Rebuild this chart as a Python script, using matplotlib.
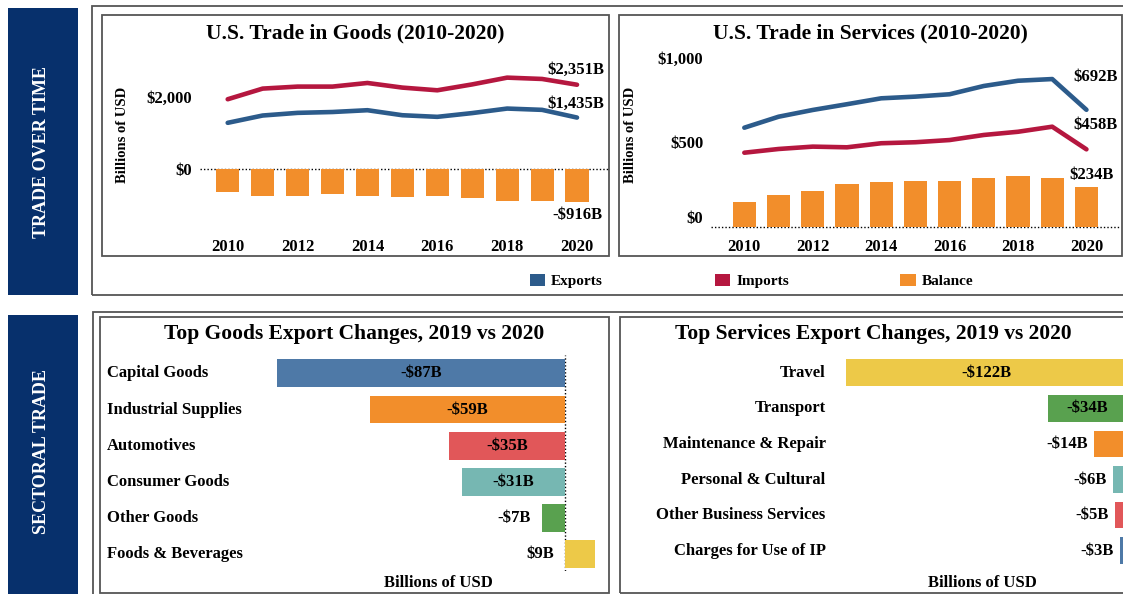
import matplotlib
matplotlib.use('Agg')
import matplotlib.pyplot as plt
from matplotlib.patches import Rectangle, Patch
from matplotlib.transforms import blended_transform_factory, ScaledTranslation

plt.rcParams['font.family'] = ['Liberation Serif', 'DejaVu Serif']
plt.rcParams['font.weight'] = 'bold'

# ---------------- data ----------------
years = list(range(2010, 2021))
year_ticks = [2010, 2012, 2014, 2016, 2018, 2020]

goods_exports = [1288, 1492, 1566, 1590, 1640, 1500, 1455, 1560, 1686, 1650, 1435]
goods_imports = [1946, 2243, 2299, 2299, 2400, 2271, 2196, 2360, 2549, 2512, 2351]
goods_balance = [-648, -750, -750, -695, -750, -778, -750, -806, -890, -880, -916]
goods_yticks = [0, 2000]
goods_yticklabels = ['$0', '$2,000']

services_exports = [586, 651, 691, 725, 760, 770, 784, 833, 864, 874, 692]
services_imports = [438, 460, 474, 470, 494, 500, 513, 543, 562, 592, 458]
services_balance = [146, 186, 213, 253, 263, 270, 270, 286, 298, 286, 234]
services_yticks = [0, 500, 1000]
services_yticklabels = ['$0', '$500', '$1,000']

goods_categories = ['Capital Goods', 'Industrial Supplies', 'Automotives',
                    'Consumer Goods', 'Other Goods', 'Foods & Beverages']
goods_changes = [-87, -59, -35, -31, -7, 9]

services_categories = ['Travel', 'Transport', 'Maintenance & Repair',
                       'Personal & Cultural', 'Other Business Services',
                       'Charges for Use of IP']
services_changes = [-122, -34, -14, -6, -5, -3]

# ---------------- style ----------------
C_EXP = '#2c5b8b'
C_IMP = '#b5173f'
C_BAL = '#f28e2b'
NAVY = '#07306c'
BOX = '#555555'
goods_colors = ['#4e79a7', '#f28e2b', '#e15759', '#76b7b2', '#59a14f', '#edc948']
services_colors = ['#edc948', '#59a14f', '#f28e2b', '#76b7b2', '#e15759', '#4e79a7']
FS = 12  # main label size

W, H = 1123, 594
fig = plt.figure(figsize=(W / 100, H / 100), dpi=100)
fig.patch.set_facecolor('white')


def fx(x):
    return x / W


def fy(y):
    return 1 - y / H


def px_axes(x0, y0, x1, y1):
    ax = fig.add_axes([x0 / W, 1 - y1 / H, (x1 - x0) / W, (y1 - y0) / H])
    ax.patch.set_visible(False)
    for s in ax.spines.values():
        s.set_visible(False)
    return ax


def px_rect(x0, y0, x1, y1, **kw):
    r = Rectangle((x0 / W, 1 - y1 / H), (x1 - x0) / W, (y1 - y0) / H,
                  transform=fig.transFigure, **kw)
    fig.add_artist(r)
    return r


def fmt_money(v):
    return f"-${abs(v):,}B" if v < 0 else f"${v:,}B"


# ---------------- side panels & boxes ----------------
px_rect(7.5, 8, 78, 294.5, facecolor=NAVY, edgecolor='none', zorder=0)
px_rect(7.5, 315, 78, 600, facecolor=NAVY, edgecolor='none', zorder=0)
fig.text(fx(42), fy(152.5), 'TRADE OVER TIME', color='white', rotation=90,
         ha='center', va='center', fontsize=13, fontweight='bold')
fig.text(fx(42), fy(451), 'SECTORAL TRADE', color='white', rotation=90,
         ha='center', va='center', fontsize=13, fontweight='bold')

px_rect(92, 6, 1130, 295, fill=False, edgecolor=BOX, lw=1.3, zorder=0)
px_rect(101.5, 15, 608.5, 256, fill=False, edgecolor=BOX, lw=1.3, zorder=0)
px_rect(618.5, 15, 1121.5, 256, fill=False, edgecolor=BOX, lw=1.3, zorder=0)
px_rect(92.5, 312, 1130, 600, fill=False, edgecolor=BOX, lw=1.3, zorder=0)
px_rect(99.5, 317, 608.5, 592.5, fill=False, edgecolor=BOX, lw=1.3, zorder=0)
px_rect(619.5, 317, 1130, 592.5, fill=False, edgecolor=BOX, lw=1.3, zorder=0)


# ---------------- top charts ----------------
def trade_chart(ax, exp, imp, bal, yticks, ylabels, bw, xlim, ylim):
    ax.bar(years, bal, width=bw, color=C_BAL, zorder=2)
    ax.plot(years, imp, color=C_IMP, lw=3.3, solid_capstyle='round', zorder=3)
    ax.plot(years, exp, color=C_EXP, lw=3.3, solid_capstyle='round', zorder=3)
    ax.axhline(0, color='black', lw=1, ls=(0, (1, 1.5)), zorder=1)
    ax.set_xlim(*xlim)
    ax.set_ylim(*ylim)
    ax.set_xticks(year_ticks)
    ax.set_xticklabels([str(y) for y in year_ticks], fontsize=FS, fontweight='bold')
    ax.set_yticks(yticks)
    ax.set_yticklabels(ylabels, fontsize=FS, fontweight='bold')
    ax.tick_params(length=0, pad=5.5)
    ax.tick_params(axis='x', pad=5)


ax1 = px_axes(200, 50, 609, 232)
trade_chart(ax1, goods_exports, goods_imports, goods_balance, goods_yticks,
            goods_yticklabels, 0.66, (2009.207, 2020.916), (-1758, 3320))
ax1.annotate(fmt_money(goods_imports[-1]), (years[-1], goods_imports[-1]),
             xytext=(-1, 10.5), textcoords='offset points', ha='center',
             va='center', fontsize=FS, fontweight='bold')
ax1.annotate(fmt_money(goods_exports[-1]), (years[-1], goods_exports[-1]),
             xytext=(-1, 10), textcoords='offset points', ha='center',
             va='center', fontsize=FS, fontweight='bold')
ax1.annotate(fmt_money(goods_balance[-1]), (years[-1], goods_balance[-1]),
             xytext=(0, -9.5), textcoords='offset points', ha='center',
             va='center', fontsize=FS, fontweight='bold')

ax2 = px_axes(711, 50, 1121, 232)
trade_chart(ax2, services_exports, services_imports, services_balance,
            services_yticks, services_yticklabels, 0.68,
            (2009.026, 2021.01), (-31.4, 1046))
ax2.annotate(fmt_money(services_exports[-1]), (years[-1], services_exports[-1]),
             xytext=(6.5, 23.5), textcoords='offset points', ha='center',
             va='center', fontsize=FS, fontweight='bold')
ax2.annotate(fmt_money(services_imports[-1]), (years[-1], services_imports[-1]),
             xytext=(6.5, 17.5), textcoords='offset points', ha='center',
             va='center', fontsize=FS, fontweight='bold')
ax2.annotate(fmt_money(services_balance[-1]), (years[-1], services_balance[-1]),
             xytext=(3.6, 9), textcoords='offset points', ha='center',
             va='center', fontsize=FS, fontweight='bold')
# raise the $0 label slightly, as in the original
lbl0 = ax2.get_yticklabels()[0]
lbl0.set_transform(lbl0.get_transform() + ScaledTranslation(0, 0.1, fig.dpi_scale_trans))

fig.text(fx(355), fy(33), 'U.S. Trade in Goods (2010-2020)', ha='center',
         va='center', fontsize=15.5, fontweight='bold')
fig.text(fx(870), fy(33), 'U.S. Trade in Services (2010-2020)', ha='center',
         va='center', fontsize=15.5, fontweight='bold')
fig.text(fx(123), fy(135), 'Billions of USD', rotation=90, ha='center',
         va='center', fontsize=10.5, fontweight='bold')
fig.text(fx(630), fy(135), 'Billions of USD', rotation=90, ha='center',
         va='center', fontsize=10.5, fontweight='bold')

legend_handles = [Patch(facecolor=C_EXP, label='Exports'),
                  Patch(facecolor=C_IMP, label='Imports'),
                  Patch(facecolor=C_BAL, label='Balance')]
fig.legend(handles=legend_handles, loc='center', ncol=3, frameon=False,
           bbox_to_anchor=(fx(751.7), fy(280.7)), fontsize=11,
           handlelength=1.02, handleheight=0.85, handletextpad=0.39,
           columnspacing=7.3, borderpad=0, borderaxespad=0)


# ---------------- bottom charts ----------------
def change_chart(ax, cats, vals, colors, bh, xlim, ylim, out_px):
    pos = list(range(len(cats)))
    ax.barh(pos, vals, height=bh, color=colors, zorder=2)
    ax.set_xlim(*xlim)
    ax.set_ylim(*ylim)
    ax.set_xticks([])
    ax.set_yticks([])
    for p, v in zip(pos, vals):
        if abs(v) >= 20:
            ax.text(v / 2, p, fmt_money(v), ha='center', va='center',
                    fontsize=FS, fontweight='bold', zorder=3)
        else:
            ax.annotate(fmt_money(v), (min(v, 0), p),
                        xytext=(-out_px * 0.72, 0), textcoords='offset points',
                        ha='right', va='center', fontsize=FS, fontweight='bold')
    return pos


ax3 = px_axes(270, 355, 600, 571)
pos3 = change_chart(ax3, goods_categories, goods_changes, goods_colors, 0.77,
                    (-89.2, 10.58), (5.46, -0.506), 11)
ax3.axvline(0, color='black', lw=1, ls=(0, (1, 1.5)), zorder=1)
tr3 = blended_transform_factory(fig.transFigure, ax3.transData)
for p, c in zip(pos3, goods_categories):
    ax3.text(fx(107.3), p, c, transform=tr3, ha='left', va='center',
             fontsize=FS, fontweight='bold')

ax4 = px_axes(835, 355, 1140, 571)
pos4 = change_chart(ax4, services_categories, services_changes, services_colors,
                    0.75, (-126.78, 5.83), (5.57, -0.497), 6)
tr4 = blended_transform_factory(fig.transFigure, ax4.transData)
for p, c in zip(pos4, services_categories):
    ax4.text(fx(825.7), p, c, transform=tr4, ha='right', va='center',
             fontsize=FS, fontweight='bold')

fig.text(fx(354), fy(334), 'Top Goods Export Changes, 2019 vs 2020', ha='center',
         va='center', fontsize=15.5, fontweight='bold')
fig.text(fx(873.3), fy(334), 'Top Services Export Changes, 2019 vs 2020',
         ha='center', va='center', fontsize=15.5, fontweight='bold')
fig.text(fx(438), fy(583), 'Billions of USD', ha='center', va='center',
         fontsize=12, fontweight='bold')
fig.text(fx(982.3), fy(583), 'Billions of USD', ha='center', va='center',
         fontsize=12, fontweight='bold')

fig.savefig('out.png', dpi=100)
